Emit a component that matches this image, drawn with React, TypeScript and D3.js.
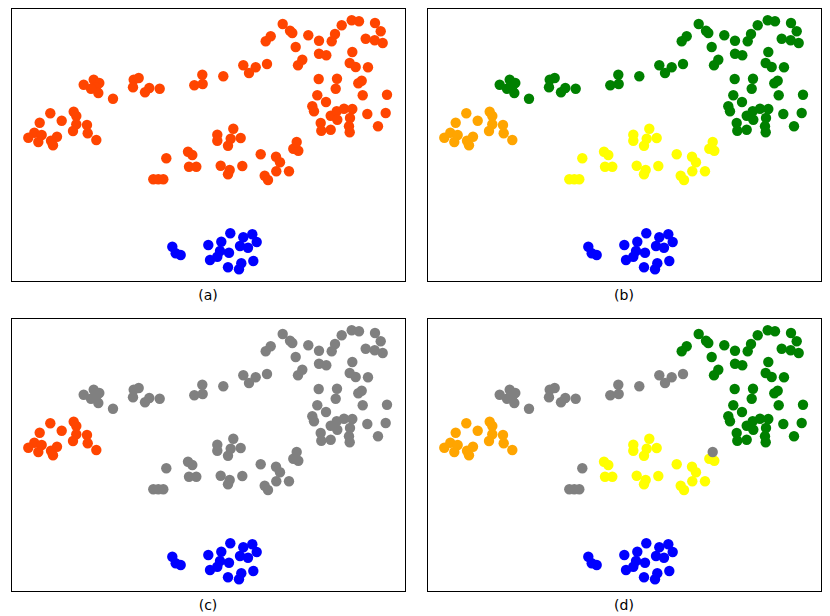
import React from 'react';
import * as d3 from 'd3';

// embedding coordinates (x right, y up), grouped by cluster
const leftPts: [number, number][] = [
  [39.3, 167.7], [62.7, 169.3], [65.3, 165], [28.7, 158.3], [50.7, 160.3], [65.3, 156.7],
  [76, 156], [62, 150], [76.7, 147.7], [23.3, 148.3], [30.7, 146], [17.3, 143.3],
  [27.3, 139], [46, 144.3], [40, 140.3], [42, 135.7], [85.3, 141],
];

// upper-left row: green in (b), grey in (d)
const rowPts: [number, number][] = [
  [72.7, 196.3], [82.7, 201.3], [88.3, 198], [85, 193.7], [80, 192.3], [87.3, 188],
  [102, 182.3], [122.7, 201.3], [127.7, 203], [122, 193.7], [138.3, 193], [134, 188.7],
  [148.7, 192.3], [183.3, 195.7], [191.3, 206.3], [191.7, 197], [212.3, 204.7],
  [232.3, 215.7], [238, 208], [244.7, 213.7], [256, 217],
];

const greenPts: [number, number][] = [
  [254.7, 239.7], [259.7, 244.7], [271.7, 257], [279, 250.3], [281.3, 248], [297.3, 245.7],
  [284.7, 234], [291.3, 221.3], [287, 215.7], [308, 240.3], [320.7, 239.7], [324, 247],
  [330.7, 255.7], [340.7, 260.7], [348, 259.7], [364, 258], [369.7, 249.7], [354.7, 242.3],
  [363.7, 240.7], [371.7, 238], [308, 227.3], [315.3, 225.7], [341.3, 229], [338.7, 218],
  [344.7, 214], [357, 213.7], [307.7, 202], [326, 202.3], [324.7, 192.3], [350.7, 200.3],
  [347.3, 197.7], [306.3, 185.7], [315, 179], [351.7, 185.7], [376, 186.3], [301.3, 174.7],
  [303, 169.7], [319.7, 165.3], [325.7, 169.7], [333, 172.3], [341.3, 172], [326.3, 161.3],
  [339, 163], [309.7, 158], [310.3, 150.3], [319.7, 151.3], [338, 154.7], [338.7, 148.7],
  [356.3, 167], [374.7, 168], [367, 154.7],
];

const yellowPts: [number, number][] = [
  [222.3, 152.3], [206.3, 146.3], [206.3, 140.3], [229.7, 143], [219.7, 142.3], [217, 135.3],
  [282.3, 132.3], [287.3, 130.3], [177, 129.3], [181.3, 126], [178, 114.3], [185.3, 114.3],
  [209.7, 115.3], [218.7, 111], [217, 106.7], [231.3, 115], [249.7, 126.7], [265, 124.3],
  [269, 118.7], [265.3, 109.7], [278, 109.7], [253.7, 105.3], [257, 101],
];

// yellow in (b), grey in (d)
const midPts: [number, number][] = [
  [155.3, 122.7], [142.3, 101.7], [147.3, 101.7], [152.3, 101.7], [285.7, 139],
];

const bluePts: [number, number][] = [
  [161.3, 34.3], [164.7, 27.7], [169.7, 26], [197.3, 36], [210.3, 39.3], [219.3, 47.7],
  [232.3, 43.7], [241.3, 46.7], [245.7, 39], [229, 35], [237, 33.3], [218, 28.3],
  [209, 30], [206.3, 24.3], [199, 21], [242.3, 20], [230.3, 17.7], [228, 11.7], [217, 13.7],
];

const groups = ['left', 'row', 'green', 'yellow', 'mid', 'blue'];
const groupPts: Record<string, [number, number][]> = {
  left: leftPts, row: rowPts, green: greenPts, yellow: yellowPts, mid: midPts, blue: bluePts,
};

const panelLabels = ['(a)', '(b)', '(c)', '(d)'];
const panelColors: Record<string, string>[] = [
  { left: 'orangered', row: 'orangered', green: 'orangered', yellow: 'orangered', mid: 'orangered', blue: 'blue' },
  { left: 'orange', row: 'green', green: 'green', yellow: 'yellow', mid: 'yellow', blue: 'blue' },
  { left: 'orangered', row: 'gray', green: 'gray', yellow: 'gray', mid: 'gray', blue: 'blue' },
  { left: 'orange', row: 'gray', green: 'green', yellow: 'yellow', mid: 'gray', blue: 'blue' },
];

const W = 394;
const H = 273;
const origins = [[11, 8], [427, 8], [11, 318], [427, 318]];

const x = d3.scaleLinear().domain([0, 394]).range([0, W]);
const y = d3.scaleLinear().domain([0, 273]).range([H, 0]);

const Panel = ({ i }: { i: number }) => {
  const [ox, oy] = origins[i];
  const colors = panelColors[i];
  return (
    <g transform={`translate(${ox},${oy})`}>
      {groups.map(g =>
        groupPts[g].map((p, k) => (
          <circle key={g + k} cx={x(p[0])} cy={y(p[1])} r={5.2} fill={colors[g]} />
        ))
      )}
      <rect x={0.5} y={0.5} width={W} height={H} fill="none" stroke="#000" strokeWidth={1} />
      <text x={W / 2} y={H + 19} textAnchor="middle" fontSize={14}
        fontFamily="DejaVu Sans" fill="#000">{panelLabels[i]}</text>
    </g>
  );
};

export default function App() {
  return (
    <div style={{ position: 'absolute', left: 0, top: 0 }}>
      <svg width={830} height={616} style={{ display: 'block', background: '#fff' }}>
        {[0, 1, 2, 3].map(i => <Panel key={i} i={i} />)}
      </svg>
    </div>
  );
}
